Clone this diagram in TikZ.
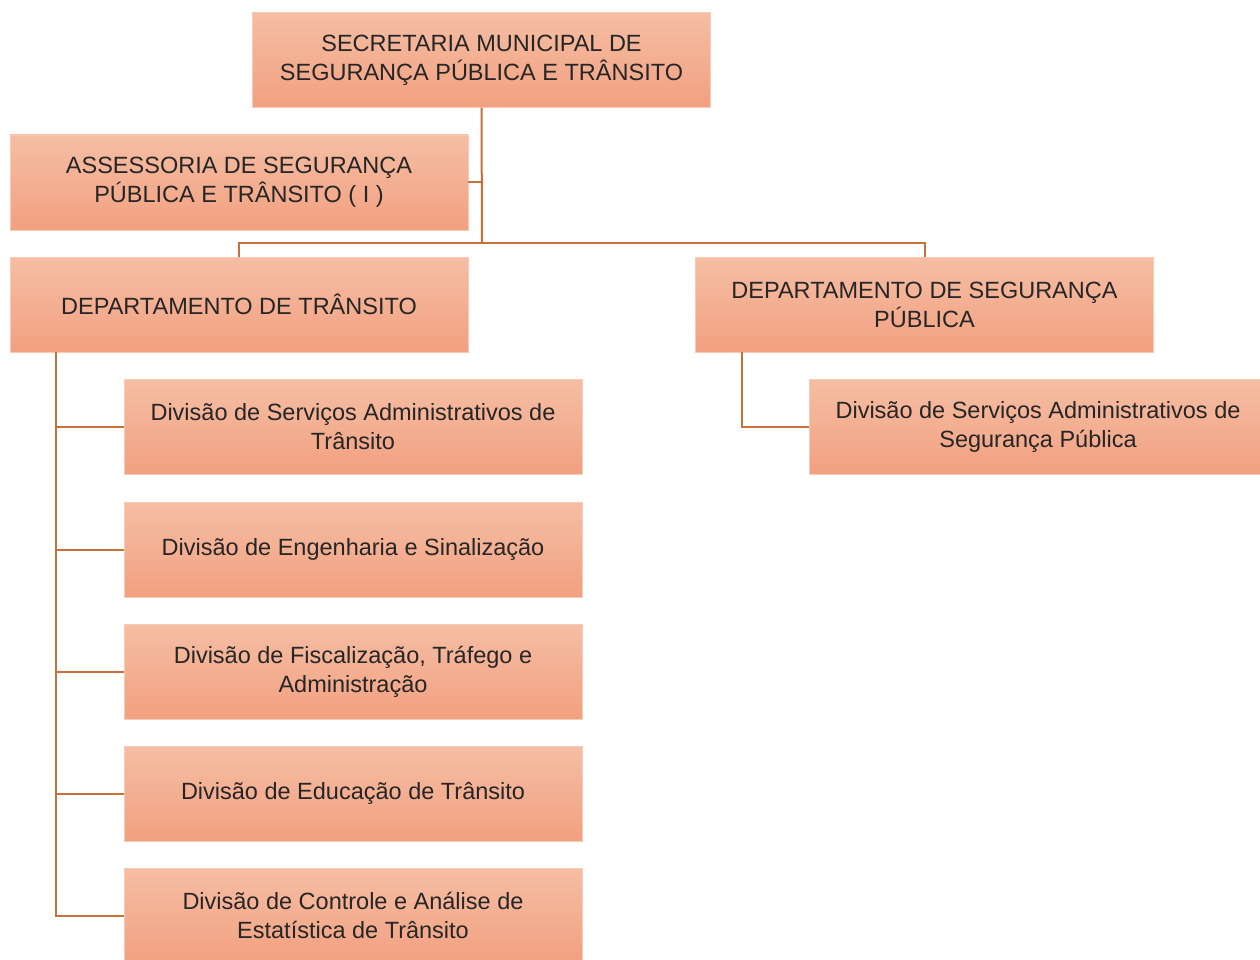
\documentclass[tikz,border=0pt]{standalone}
\usepackage{fontspec}
\setmainfont{Liberation Sans}
\begin{document}
\begin{tikzpicture}[x=1pt,y=-1pt,
  box/.style={rectangle, minimum width=458pt, minimum height=95pt, inner sep=0pt,
    top color=boxtop, bottom color=boxbot, draw=boxtop!80!white, line width=0.4pt,
    align=center, font=\fontsize{23.5}{29}\selectfont, text=black!85},
  conn/.style={draw=lineclr, line width=2pt}]
\definecolor{boxtop}{RGB}{245,190,164}
\definecolor{boxbot}{RGB}{242,160,128}
\definecolor{lineclr}{RGB}{200,112,58}
\useasboundingbox (0,0) rectangle (1260,960);
\begin{scope}
\clip (0,0) rectangle (1260,960);
\node[box] (sec) at (481.5,60) {SECRETARIA MUNICIPAL DE\\SEGURANÇA PÚBLICA E TRÂNSITO};
\node[box] (ass) at (239,182.5) {ASSESSORIA DE SEGURANÇA\\PÚBLICA E TRÂNSITO ( I )};
\node[box] (dt) at (239,304.5) {DEPARTAMENTO DE TRÂNSITO};
\node[box] (ds) at (924.5,304.5) {DEPARTAMENTO DE SEGURANÇA\\PÚBLICA};
\node[box] (dss) at (1038,427) {Divisão de Serviços Administrativos de\\Segurança Pública};
\node[box] (d1) at (353,427) {Divisão de Serviços Administrativos de\\Trânsito};
\node[box] (d2) at (353,549.5) {Divisão de Engenharia e Sinalização};
\node[box] (d3) at (353,671.5) {Divisão de Fiscalização, Tráfego e\\Administração};
\node[box] (d4) at (353,793.5) {Divisão de Educação de Trânsito};
\node[box] (d5) at (353,915.5) {Divisão de Controle e Análise de\\Estatística de Trânsito};
\coordinate (hub) at (482,243);
\draw[conn] (sec.south) -- (hub);
\draw[conn] (ass.east) -- (ass.east -| hub);
\draw[conn] (dt.north) |- (hub) -| (ds.north);
\coordinate (tl) at (56,0);
\draw[conn] (tl |- dt.south) -- (tl |- d5.west) -- (d5.west);
\foreach \d in {d1,d2,d3,d4} \draw[conn] (tl |- \d.west) -- (\d.west);
\coordinate (sl) at (742,0);
\draw[conn] (sl |- ds.south) |- (dss.west);
\end{scope}
\end{tikzpicture}
\end{document}
